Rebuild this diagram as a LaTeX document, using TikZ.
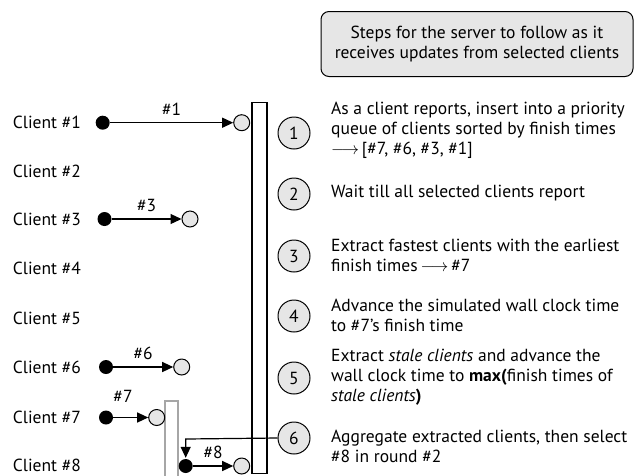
\documentclass[tikz,border=0pt]{standalone}
\usepackage{fontspec}
\setmainfont{PT Sans}
\usetikzlibrary{arrows.meta}
\definecolor{lightg}{HTML}{E6E6E6}
\definecolor{barg}{HTML}{A6A6A6}
\begin{document}
\begin{tikzpicture}[x=1pt,y=-1pt,
  font=\fontsize{17.5}{20}\selectfont,
  dot/.style={circle,fill=black,inner sep=0pt,minimum size=14pt},
  ocirc/.style={circle,draw,fill=lightg,inner sep=0pt,minimum size=16pt,line width=1pt},
  stepc/.style={circle,draw,fill=lightg,inner sep=0pt,minimum size=32pt,line width=1pt},
  conn/.style={-{Triangle[length=11pt,width=10pt]},line width=1.2pt},
  steptext/.style={anchor=west,align=left,inner sep=0pt},
  clabel/.style={anchor=west,inner sep=0pt},
  hlabel/.style={inner sep=0pt}]
\useasboundingbox (0,0) rectangle (634,475);
% header box
\node[draw,fill=lightg,rounded corners=8pt,line width=1pt,minimum width=312pt,minimum height=65pt,align=center,inner sep=0pt] (hdr) at (477,44) {Steps for the server to follow as it\\receives updates from selected clients};
% server bar
\node[draw,line width=1.2pt,fill=white,minimum width=15pt,minimum height=371pt,inner sep=0pt] (srv) at (259.5,288) {};
% gray bar for round 2
\draw[barg,line width=1.2pt,fill=white] (165,478) -- (165,401) -- (178,401) -- (178,478);
% client labels
\node[clabel] (c1) at (12.7,122.7) {Client \#1};
\node[clabel] (c2) at (12.7,171) {Client \#2};
\node[clabel] (c3) at (12.7,219) {Client \#3};
\node[clabel] (c4) at (12.7,268.5) {Client \#4};
\node[clabel] (c5) at (12.7,318) {Client \#5};
\node[clabel] (c6) at (12.7,367) {Client \#6};
\node[clabel] (c7) at (12.7,417.5) {Client \#7};
\node[clabel] (c8) at (12.7,465) {Client \#8};
% client transfers
\node[dot] (d1) at (102.7,122.7) {};
\node[ocirc] (o1) at (241.7,122.7) {};
\draw[conn] (d1) -- (o1) node[midway,above=7pt,hlabel] (l1) {\#1};
\node[dot] (d3) at (104.5,219) {};
\node[ocirc] (o3) at (190,219) {};
\draw[conn] (d3) -- (o3) node[midway,above=7pt,hlabel] (l3) {\#3};
\node[dot] (d6) at (106,367) {};
\node[ocirc] (o6) at (181.7,367) {};
\draw[conn] (d6) -- (o6) node[midway,above=7pt,hlabel] (l6) {\#6};
\node[dot] (d7) at (106,417.5) {};
\node[ocirc] (o7) at (156.7,417.5) {};
\draw[conn] (d7) -- (o7);
\node[hlabel] (l7) at (123,396) {\#7};
\node[dot] (d8) at (185.7,466) {};
\node[ocirc] (o8) at (241.7,466) {};
\draw[conn] (d8) -- (o8) node[midway,above=7pt,hlabel] (l8) {\#8};
% steps
\node[stepc] (s1) at (294,133) {1};
\node[stepc] (s2) at (294,194) {2};
\node[stepc] (s3) at (294,256) {3};
\node[stepc] (s4) at (294,316) {4};
\node[stepc] (s5) at (294,378) {5};
\node[stepc] (s6) at (294,438) {6};
\node[steptext] (t1) at (331,130) {As a client reports, insert into a priority\\queue of clients sorted by finish times\\$\longrightarrow$\,[\#7, \#6, \#3, \#1]};
\node[steptext] (t2) at (331,193) {Wait till all selected clients report};
\node[steptext] (t3) at (331,255) {Extract fastest clients with the earliest\\finish times\,$\longrightarrow$\,\#7};
\node[steptext] (t4) at (331,315) {Advance the simulated wall clock time\\to \#7's finish time};
\node[steptext] (t5) at (331,377) {Extract \textit{stale clients} and advance the\\wall clock time to \textbf{max(}finish times of\\\textit{stale clients}\textbf{)}};
\node[steptext] (t6) at (331,446) {Aggregate extracted clients, then select\\\#8 in round \#2};
% feedback from step 6 to client 8
\coordinate (turn) at (185.7,439);
\draw[line width=1.2pt,-{Triangle[length=11pt,width=10pt]}] (s6.west) -- (turn) -- ([yshift=1pt]d8.north);
\end{tikzpicture}
\end{document}
